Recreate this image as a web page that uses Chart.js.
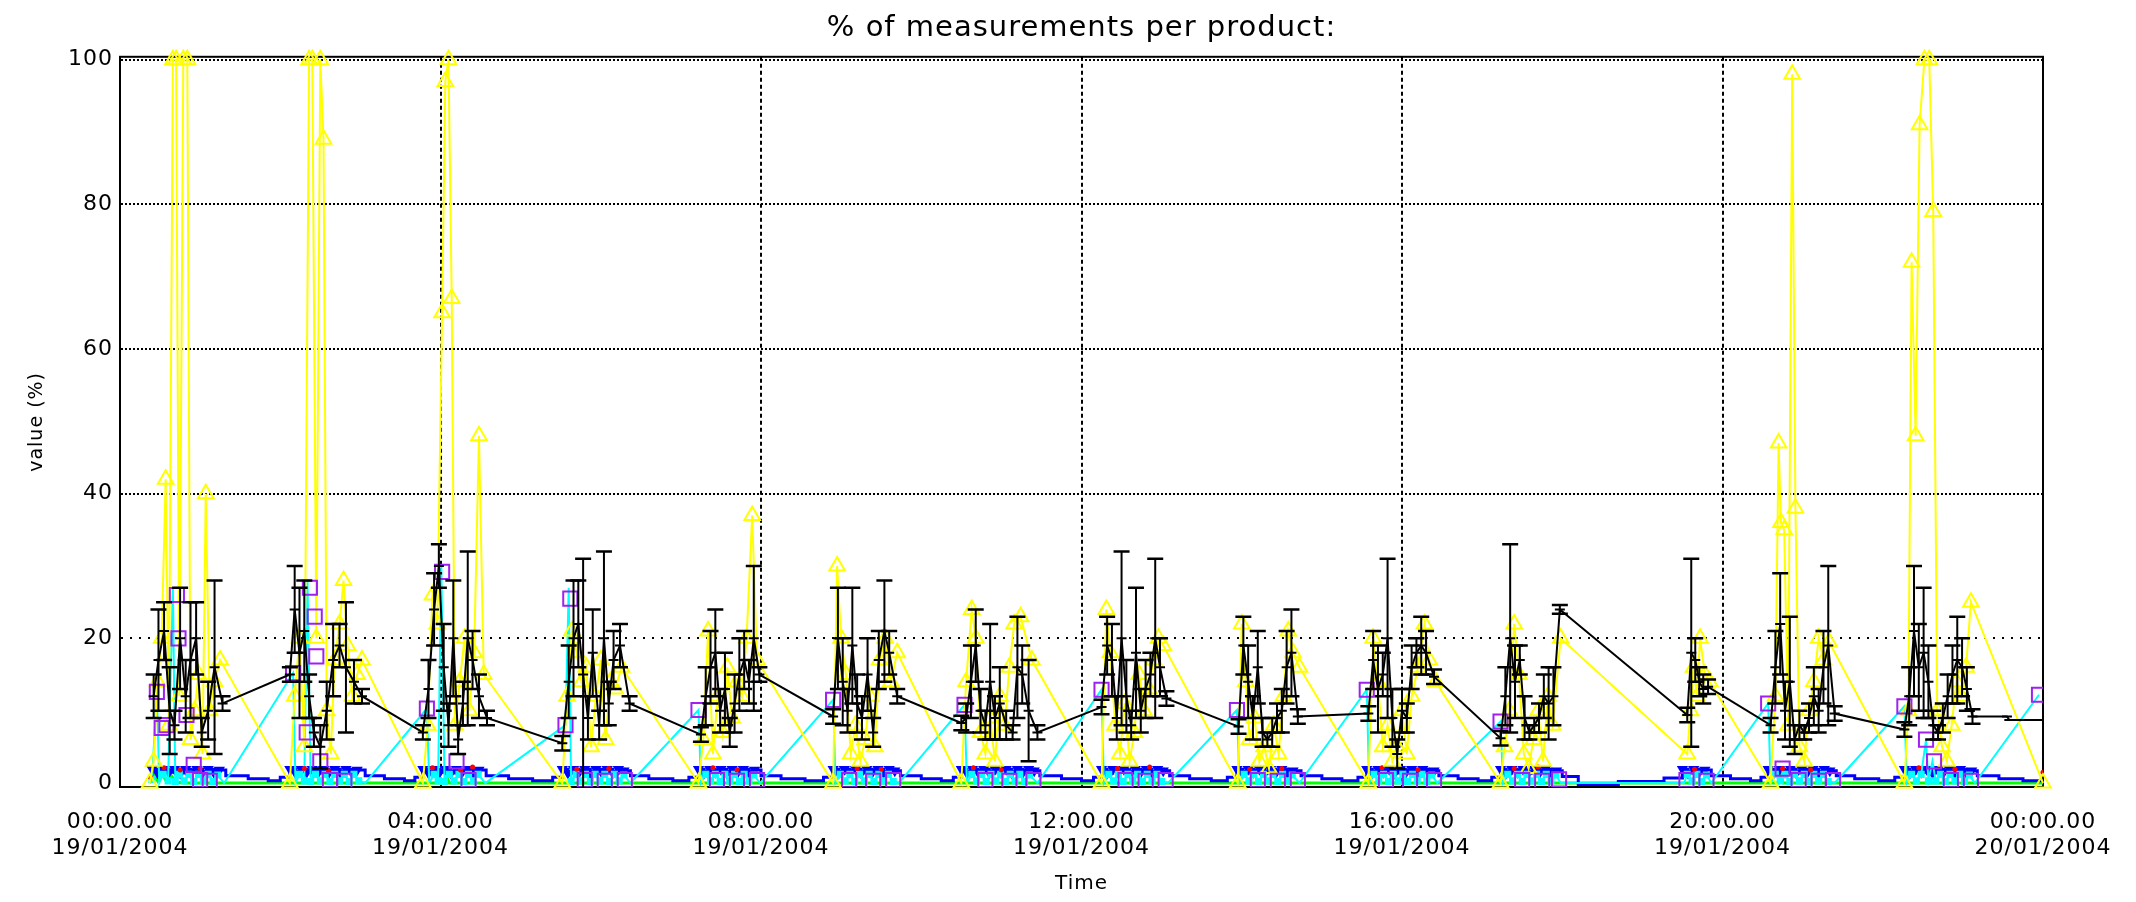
<!DOCTYPE html>
<html>
<head>
<meta charset="utf-8">
<title>% of measurements per product:</title>
<script src="https://cdn.jsdelivr.net/npm/chart.js@4.4.1/dist/chart.umd.min.js"></script>
<style>
  html, body { margin: 0; padding: 0; background: #fff; }
  canvas { display: block; }
</style>
</head>
<body>
<canvas id="myChart" width="2136" height="902"></canvas>
<script>
// time axis in hours since 19/01/2004 00:00
const tickHours = [0, 4, 8, 12, 16, 20, 24];
const tickTimes = ["00:00.00", "04:00.00", "08:00.00", "12:00.00", "16:00.00", "20:00.00", "00:00.00"];
const tickDates = ["19/01/2004", "19/01/2004", "19/01/2004", "19/01/2004", "19/01/2004", "19/01/2004", "20/01/2004"];
const yTicks = [0, 20, 40, 60, 80, 100];

// black: mean with error bar
const blackTime = [
  0.42, 0.48, 0.55, 0.62, 0.68, 0.75, 0.82, 0.88, 0.95, 1.02, 1.10, 1.18, 1.28,
  2.12, 2.18, 2.24, 2.30, 2.36, 2.42, 2.50, 2.58, 2.66, 2.74, 2.82, 2.92, 3.02,
  3.78, 3.85, 3.92, 3.98, 4.04, 4.10, 4.16, 4.22, 4.28, 4.34, 4.40, 4.48, 4.58,
  5.52, 5.60, 5.66, 5.72, 5.78, 5.84, 5.90, 5.98, 6.04, 6.10, 6.16, 6.24, 6.36,
  7.25, 7.31, 7.37, 7.43, 7.49, 7.55, 7.61, 7.67, 7.73, 7.79, 7.85, 7.91, 7.98,
  8.90, 8.96, 9.02, 9.08, 9.14, 9.20, 9.26, 9.33, 9.40, 9.47, 9.54, 9.60, 9.70,
  10.50, 10.56, 10.62, 10.68, 10.74, 10.80, 10.86, 10.92, 10.98, 11.06, 11.14, 11.20, 11.26, 11.34, 11.45,
  12.25, 12.32, 12.38, 12.44, 12.50, 12.56, 12.62, 12.68, 12.74, 12.80, 12.86, 12.92, 12.98, 13.06,
  13.96, 14.02, 14.08, 14.14, 14.20, 14.26, 14.32, 14.38, 14.44, 14.50, 14.56, 14.62, 14.70,
  15.58, 15.64, 15.70, 15.76, 15.82, 15.88, 15.94, 16.00, 16.06, 16.12, 16.18, 16.24, 16.30, 16.40,
  17.23, 17.29, 17.35, 17.41, 17.47, 17.53, 17.59, 17.65, 17.71, 17.77, 17.83, 17.89, 17.97,
  19.56, 19.61, 19.66, 19.71, 19.76, 19.82,
  20.60, 20.66, 20.72, 20.78, 20.84, 20.90, 20.96, 21.02, 21.08, 21.14, 21.20, 21.26, 21.32, 21.40,
  22.27, 22.33, 22.39, 22.45, 22.51, 22.57, 22.63, 22.69, 22.75, 22.81, 22.87, 22.93, 22.99, 23.05, 23.12,
  23.55, 23.58, 24.00
];
const blackMean = [
  12, 17, 21, 10, 8, 20, 12, 17, 20, 7, 10, 16, 11,
  15, 24, 18, 21, 12, 7, 5, 10, 17, 19, 16, 14, 12,
  7, 13, 24, 30, 16, 8, 20, 6, 11, 20, 17, 12, 9,
  5.5, 14, 20, 22, 15, 9, 18, 8, 20, 11, 17, 19, 11,
  6.7, 12, 16, 18, 10, 13, 7, 11, 15, 17, 14, 20, 15,
  9.2, 20, 14, 10, 19, 11, 9, 15, 7, 17, 21, 18, 12,
  8.3, 9, 14, 19, 10, 8, 14, 9, 11, 8, 7, 16, 15, 10, 7,
  10.5, 19, 17, 9, 20, 12, 8, 18, 10, 13, 15, 20, 16, 11.7,
  7.8, 19, 14, 9, 16, 7, 6, 7, 9, 10, 16, 18, 9.2,
  9.6, 17, 13, 15, 20, 9, 4, 10, 9, 16, 18, 19, 18, 14.7,
  6.2, 12, 20, 14, 17, 9, 7, 8, 9, 12, 11, 12, 24,
  9.4, 18, 17, 14, 13, 13.3,
  8, 16, 22, 10, 14, 6, 8, 7, 9, 12, 10, 16, 19, 9.6,
  7.4, 12, 21, 16, 18, 14, 8, 7, 9, 12, 15, 17, 16, 13, 9.2,
  9.2, 8.7, 8.7
];
const blackErr = [
  3, 7, 4, 6, 2, 7, 5, 8, 5, 2, 4, 12, 1,
  1, 6, 9, 7, 3, 2, 3, 4, 5, 3, 9, 3, 1,
  1, 4, 5, 3, 6, 3, 8, 2, 3, 12, 4, 3, 1,
  1, 5, 8, 6, 16, 3, 6, 2, 12, 3, 4, 3, 1,
  1, 4, 5, 6, 3, 5, 2, 4, 5, 4, 3, 10, 1,
  1, 7, 6, 3, 8, 4, 3, 5, 2, 4, 7, 3, 1,
  1, 2, 5, 5, 3, 2, 8, 3, 5, 2, 1, 7, 4, 7, 1,
  1, 4, 5, 3, 12, 5, 2, 9, 3, 4, 3, 11, 4, 1,
  1, 4, 5, 3, 5, 2, 1, 2, 2, 3, 5, 6, 1,
  1, 4, 6, 3, 11, 4, 2, 3, 2, 3, 2, 4, 3, 1,
  1, 4, 13, 5, 2, 3, 1, 1, 2, 3, 5, 4, 0.6,
  1, 13, 3, 2, 2, 1,
  1, 5, 7, 4, 9, 2, 2, 1, 2, 4, 3, 5, 11, 1,
  1, 4, 9, 6, 9, 5, 2, 1, 2, 3, 4, 6, 4, 3, 1,
  0, 0, 0
];

// yellow: triangles
const yellowTime = [
  0.37, 0.42, 0.47, 0.52, 0.57, 0.61, 0.66, 0.70, 0.74, 0.79, 0.84, 0.88, 0.93, 0.98, 1.03, 1.07, 1.12, 1.18, 1.25,
  2.12, 2.18, 2.24, 2.30, 2.36, 2.40, 2.45, 2.50, 2.54, 2.58, 2.63, 2.68, 2.74, 2.79, 2.84, 2.90, 2.96, 3.02,
  3.78, 3.84, 3.90, 3.96, 4.02, 4.06, 4.10, 4.14, 4.18, 4.24, 4.30, 4.36, 4.42, 4.48, 4.54,
  5.52, 5.58, 5.64, 5.70, 5.76, 5.82, 5.88, 5.94, 6.00, 6.06, 6.12, 6.18, 6.26,
  7.22, 7.28, 7.34, 7.40, 7.46, 7.52, 7.58, 7.64, 7.70, 7.76, 7.82, 7.89, 7.95,
  8.90, 8.95, 9.00, 9.06, 9.12, 9.18, 9.24, 9.30, 9.36, 9.42, 9.48, 9.55, 9.62, 9.70,
  10.50, 10.56, 10.63, 10.68, 10.74, 10.80, 10.86, 10.92, 10.98, 11.04, 11.10, 11.16, 11.24, 11.38,
  12.25, 12.31, 12.36, 12.42, 12.48, 12.54, 12.60, 12.66, 12.72, 12.78, 12.84, 12.90, 12.96, 13.02,
  13.95, 14.00, 14.05, 14.10, 14.16, 14.22, 14.28, 14.34, 14.40, 14.46, 14.52, 14.58, 14.64, 14.72,
  15.58, 15.64, 15.70, 15.76, 15.82, 15.88, 15.94, 16.00, 16.06, 16.12, 16.20, 16.28, 16.34, 16.42,
  17.23, 17.28, 17.34, 17.40, 17.46, 17.52, 17.58, 17.64, 17.70, 17.76, 17.82, 17.88, 17.98,
  19.56, 19.60, 19.64, 19.68, 19.72, 19.78, 19.84,
  20.60, 20.66, 20.70, 20.73, 20.77, 20.82, 20.87, 20.91, 20.96, 21.02, 21.08, 21.14, 21.20, 21.26, 21.33,
  22.27, 22.32, 22.36, 22.41, 22.46, 22.52, 22.58, 22.63, 22.68, 22.74, 22.80, 22.86, 22.92, 22.98, 23.04, 23.10,
  24.00
];
const yellowValue = [
  0, 3, 14, 20, 42, 8, 100, 100, 12, 100, 100, 6, 10, 15, 4, 40, 10, 14, 17,
  0, 12, 20, 5, 100, 100, 20, 100, 89, 10, 4, 17, 22, 28, 19, 12, 15, 17,
  0, 8, 26, 22, 65, 97, 100, 67, 8, 14, 20, 10, 18, 48, 15,
  0, 12, 21, 18, 14, 16, 5, 12, 17, 6, 14, 13, 16,
  0, 6, 21, 4, 12, 7, 16, 9, 14, 12, 20, 37, 17,
  0, 30, 20, 15, 4, 8, 3, 6, 12, 5, 17, 20, 14, 18,
  0, 14, 24, 20, 7, 4, 9, 3, 12, 8, 16, 22, 23, 17,
  0, 24, 18, 8, 4, 11, 3, 7, 15, 10, 13, 17, 20, 19,
  0, 22, 14, 6, 9, 3, 5, 2, 8, 4, 12, 21, 18, 16,
  0, 20, 14, 5, 8, 3, 5, 10, 4, 12, 16, 22, 17, 14,
  0, 5, 10, 22, 15, 4, 2, 6, 10, 3, 12, 8, 20,
  4, 10, 16, 12, 20, 15, 14,
  0, 12, 47, 36, 35, 8, 98, 38, 5, 3, 10, 14, 20, 17, 19.5,
  0, 10, 72, 48, 91, 100, 100, 79, 10, 5, 3, 8, 14, 12, 16, 25,
  0
];

// purple: open squares
const purpleTime = [
  0.46, 0.52, 0.58, 0.71, 0.73, 0.83, 0.92, 1.00, 1.12,
  2.16, 2.33, 2.37, 2.43, 2.45, 2.50, 2.62, 2.80,
  3.83, 4.02, 4.20, 4.35,
  5.56, 5.62, 5.80, 6.05, 6.30,
  7.22, 7.45, 7.70, 7.95,
  8.90, 9.10, 9.40, 9.65,
  10.54, 10.80, 11.10, 11.40,
  12.25, 12.55, 12.80, 13.05,
  13.94, 14.20, 14.45, 14.70,
  15.56, 15.80, 16.10, 16.40,
  17.23, 17.50, 17.75, 17.96,
  19.55, 19.80,
  20.57, 20.75, 20.95, 21.20, 21.38,
  22.27, 22.54, 22.64, 22.85, 23.10,
  23.95
];
const purpleValue = [
  12.6, 7.6, 8, 26, 20, 9.4, 2.5, 0.4, 0.3,
  15.2, 7, 27, 23, 17.5, 3, 0.4, 0.3,
  10.3, 29.2, 3, 0.4,
  8, 25.5, 0.4, 0.3, 0.4,
  10.1, 0.4, 0.3, 0.4,
  11.5, 0.4, 0.3, 0.4,
  10.8, 0.4, 0.3, 0.4,
  12.9, 0.4, 0.3, 0.4,
  10.1, 0.4, 0.3, 0.4,
  12.9, 0.4, 0.3, 0.4,
  8.5, 0.4, 0.3, 0.5,
  0.4, 0.3,
  11, 2, 0.4, 0.3, 0.4,
  10.6, 6, 3, 0.4, 0.3,
  12.2
];

// cyan line
const cyanTime = [
  0.40, 0.46, 0.49, 0.54, 0.60, 0.66, 0.69, 0.74, 0.80, 0.86, 0.92, 0.98, 1.04, 1.10, 1.16, 1.22, 1.30,
  2.16, 2.19, 2.24, 2.30, 2.34, 2.38, 2.44, 2.50, 2.56, 2.62, 2.68, 2.74, 2.80, 2.86, 2.92, 2.98, 3.06,
  3.83, 3.86, 3.92, 3.97, 4.01, 4.05, 4.11, 4.17, 4.23, 4.29, 4.35, 4.41, 4.47, 4.56,
  5.56, 5.60, 5.63, 5.69, 5.75, 5.81, 5.87, 5.93, 5.99, 6.05, 6.11, 6.17, 6.23, 6.29, 6.37,
  7.22, 7.25, 7.31, 7.37, 7.43, 7.49, 7.55, 7.61, 7.67, 7.73, 7.79, 7.85, 7.91, 7.99,
  8.90, 8.93, 8.99, 9.05, 9.11, 9.17, 9.23, 9.29, 9.35, 9.41, 9.47, 9.53, 9.59, 9.65, 9.72,
  10.54, 10.57, 10.63, 10.69, 10.75, 10.81, 10.87, 10.93, 10.99, 11.05, 11.11, 11.17, 11.23, 11.29, 11.35, 11.45,
  12.25, 12.28, 12.34, 12.40, 12.46, 12.52, 12.58, 12.64, 12.70, 12.76, 12.82, 12.88, 12.94, 13.00, 13.08,
  13.94, 13.97, 14.03, 14.09, 14.15, 14.21, 14.27, 14.33, 14.39, 14.45, 14.51, 14.57, 14.63, 14.72,
  15.56, 15.59, 15.65, 15.71, 15.77, 15.83, 15.89, 15.95, 16.01, 16.07, 16.13, 16.19, 16.25, 16.31, 16.37, 16.44,
  17.23, 17.26, 17.32, 17.38, 17.44, 17.50, 17.56, 17.62, 17.68, 17.74, 17.80, 17.86, 17.92, 17.98,
  19.52, 19.56, 19.62, 19.68, 19.74, 19.80, 19.86,
  20.57, 20.60, 20.66, 20.72, 20.78, 20.84, 20.90, 20.96, 21.02, 21.08, 21.14, 21.20, 21.26, 21.32, 21.40,
  22.27, 22.30, 22.36, 22.42, 22.48, 22.54, 22.57, 22.62, 22.66, 22.72, 22.78, 22.84, 22.90, 22.96, 23.02, 23.08, 23.15,
  23.95
];
const cyanValue = [
  0.5, 12.6, 0, 1.2, 0.3, 27, 0.2, 1.2, 0.3, 1.2, 0.2, 1.2, 0.3, 1.2, 0.2, 1.1, 0,
  15.2, 0, 1.2, 0.3, 28, 0.2, 1.2, 0.3, 1.2, 0.2, 1.2, 0.3, 1.2, 0.2, 1.2, 0.3, 0,
  10.3, 0, 1.2, 0.3, 30, 0.2, 1.2, 0.3, 1.2, 0.2, 1.2, 0.3, 1.2, 0,
  8, 27, 0.2, 1.2, 0.3, 1.2, 0.2, 1.2, 0.3, 1.2, 0.2, 1.2, 0.3, 1.1, 0,
  10.1, 0, 1.2, 0.3, 1.2, 0.2, 1.2, 0.3, 1.2, 0.2, 1.2, 0.3, 1.1, 0,
  11.5, 0, 1.2, 0.3, 1.2, 0.2, 1.2, 0.3, 1.2, 0.2, 1.2, 0.3, 1.2, 0.2, 0,
  10.8, 0, 1.2, 0.3, 1.2, 0.2, 1.2, 0.3, 1.2, 0.2, 1.2, 0.3, 1.2, 0.2, 1.1, 0,
  12.9, 0, 1.2, 0.3, 1.2, 0.2, 1.2, 0.3, 1.2, 0.2, 1.2, 0.3, 1.2, 0.2, 0,
  10.1, 0, 1.2, 0.3, 1.2, 0.2, 1.2, 0.3, 1.2, 0.2, 1.2, 0.3, 1.1, 0,
  12.9, 0, 1.2, 0.3, 1.2, 0.2, 1.2, 0.3, 1.2, 0.2, 1.2, 0.3, 1.2, 0.2, 1.1, 0,
  8.5, 0, 1.2, 0.3, 1.2, 0.2, 1.2, 0.3, 1.2, 0.2, 1.2, 0.3, 1.1, 0,
  0, 1.2, 0.3, 1.2, 0.2, 1.1, 0,
  11, 0, 1.2, 0.3, 1.2, 0.2, 1.2, 0.3, 1.2, 0.2, 1.2, 0.3, 1.2, 0.2, 0,
  10.6, 0, 1.2, 0.3, 1.2, 6, 0.3, 3, 0.3, 1.2, 0.2, 1.2, 0.3, 1.2, 0.2, 1.1, 0,
  12.2
];

// blue stepped line
const blueTime = [
  0.35, 0.40, 0.47, 0.54, 0.61, 0.68, 0.75, 0.82, 0.89, 0.96, 1.03, 1.10, 1.17, 1.24, 1.32, 1.60, 1.85, 2.00,
  2.12, 2.19, 2.26, 2.33, 2.40, 2.47, 2.54, 2.61, 2.68, 2.75, 2.82, 2.89, 2.96, 3.06, 3.30, 3.55, 3.68,
  3.78, 3.85, 3.92, 3.99, 4.06, 4.13, 4.20, 4.27, 4.34, 4.41, 4.48, 4.57, 4.85, 5.15, 5.40,
  5.52, 5.59, 5.66, 5.73, 5.80, 5.87, 5.94, 6.01, 6.08, 6.15, 6.22, 6.29, 6.37, 6.60, 6.90, 7.10,
  7.22, 7.29, 7.36, 7.43, 7.50, 7.57, 7.64, 7.71, 7.78, 7.85, 7.92, 8.00, 8.25, 8.55, 8.78,
  8.90, 8.97, 9.04, 9.11, 9.18, 9.25, 9.32, 9.39, 9.46, 9.53, 9.60, 9.67, 9.74, 10.00, 10.25, 10.40,
  10.50, 10.57, 10.64, 10.71, 10.78, 10.85, 10.92, 10.99, 11.06, 11.13, 11.20, 11.27, 11.34, 11.41, 11.48, 11.75, 12.00, 12.15,
  12.25, 12.32, 12.39, 12.46, 12.53, 12.60, 12.67, 12.74, 12.81, 12.88, 12.95, 13.02, 13.10, 13.35, 13.62, 13.82,
  13.94, 14.01, 14.08, 14.15, 14.22, 14.29, 14.36, 14.43, 14.50, 14.57, 14.64, 14.74, 15.00, 15.25, 15.45,
  15.56, 15.63, 15.70, 15.77, 15.84, 15.91, 15.98, 16.05, 16.12, 16.19, 16.26, 16.33, 16.40, 16.46, 16.70, 16.95, 17.12,
  17.23, 17.30, 17.37, 17.44, 17.51, 17.58, 17.65, 17.72, 17.79, 17.86, 17.93, 18.00, 18.20, 18.70, 19.27,
  19.50, 19.57, 19.64, 19.71, 19.78, 19.86, 20.10, 20.35, 20.48,
  20.57, 20.64, 20.71, 20.78, 20.85, 20.92, 20.99, 21.06, 21.13, 21.20, 21.27, 21.34, 21.42, 21.65, 21.95, 22.15,
  22.27, 22.34, 22.41, 22.48, 22.55, 22.62, 22.69, 22.76, 22.83, 22.90, 22.97, 23.04, 23.11, 23.18, 23.45, 23.75, 24.00
];
const blueValue = [
  0.8, 1.9, 1.4, 1.9, 1.5, 1.9, 1.4, 1.9, 1.5, 1.9, 1.4, 1.9, 1.5, 1.8, 1.0, 0.6, 0.3, 0.8,
  1.9, 1.4, 1.9, 1.5, 1.9, 1.4, 1.9, 1.5, 1.9, 1.4, 1.9, 1.5, 1.8, 1.0, 0.6, 0.3, 0.8,
  1.9, 1.4, 1.9, 1.5, 1.9, 1.4, 1.9, 1.5, 1.9, 1.4, 1.8, 1.0, 0.6, 0.3, 0.8,
  1.9, 1.4, 1.9, 1.5, 1.9, 1.4, 1.9, 1.5, 1.9, 1.4, 1.9, 1.7, 1.0, 0.6, 0.3, 0.8,
  1.9, 1.4, 1.9, 1.5, 1.9, 1.4, 1.9, 1.5, 1.9, 1.4, 1.8, 1.0, 0.6, 0.3, 0.8,
  1.9, 1.4, 1.9, 1.5, 1.9, 1.4, 1.9, 1.5, 1.9, 1.4, 1.9, 1.7, 1.0, 0.6, 0.3, 0.8,
  1.9, 1.4, 1.9, 1.5, 1.9, 1.4, 1.9, 1.5, 1.9, 1.4, 1.9, 1.5, 1.9, 1.7, 1.0, 0.6, 0.3, 0.8,
  1.9, 1.4, 1.9, 1.5, 1.9, 1.4, 1.9, 1.5, 1.9, 1.4, 1.9, 1.7, 1.0, 0.6, 0.3, 0.8,
  1.9, 1.4, 1.9, 1.5, 1.9, 1.4, 1.9, 1.5, 1.9, 1.4, 1.7, 1.0, 0.6, 0.3, 0.8,
  1.9, 1.4, 1.9, 1.5, 1.9, 1.4, 1.9, 1.5, 1.9, 1.4, 1.9, 1.5, 1.7, 1.0, 0.6, 0.3, 0.8,
  1.9, 1.4, 1.9, 1.5, 1.9, 1.4, 1.9, 1.5, 1.9, 1.4, 1.7, 0.9, -0.2, 0.2, 0.7,
  1.9, 1.4, 1.9, 1.5, 1.8, 1.0, 0.6, 0.3, 0.8,
  1.9, 1.4, 1.9, 1.5, 1.9, 1.4, 1.9, 1.5, 1.9, 1.4, 1.9, 1.7, 1.0, 0.6, 0.3, 0.8,
  1.9, 1.4, 1.9, 1.5, 1.9, 1.4, 1.9, 1.5, 1.9, 1.4, 1.9, 1.5, 1.7, 1.0, 0.6, 0.3, 0.3
];

// red dots
const redTime = [0.38, 0.55, 0.75, 1.00, 2.30, 2.60, 3.90, 4.25, 4.40, 5.70, 6.10, 7.40, 7.70, 9.20, 9.50,
  10.65, 11.00, 12.45, 12.85, 14.10, 14.50, 15.75, 16.20, 17.40, 17.70, 19.65, 20.75, 21.10, 22.45, 22.90, 24.00];
const redValue = [0.8, 2.1, 1.8, 2.0, 2.0, 1.7, 2.1, 1.8, 2.2, 1.9, 2.0, 2.1, 1.8, 2.0, 1.9,
  2.1, 1.8, 2.0, 2.2, 1.9, 2.0, 2.1, 1.8, 2.0, 2.2, 1.9, 2.0, 1.8, 2.1, 1.9, 1.5];

// green line
const greenTime = [0.37, 0.42, 0.47, 0.52, 0.58, 0.64, 0.70, 0.80, 4.05, 4.08, 4.11, 20.70, 20.73, 20.76, 24.00];
const greenValue = [0, 1.2, 0.3, 1.4, 0.2, 1.0, 0.1, 0, 0, 0.8, 0, 0, 0.9, 0, 0];

const pts = (xs, ys) => xs.map((x, i) => ({ x: x, y: ys[i] }));

const errorBarData = [];
blackTime.forEach((t, i) => {
  if (blackErr[i] > 0) {
    errorBarData.push({ x: t, y: blackMean[i] - blackErr[i] });
    errorBarData.push({ x: t, y: blackMean[i] + blackErr[i] });
    errorBarData.push({ x: t, y: null });
  }
});

const plotFrame = {
  id: "plotFrame",
  beforeDraw(chart) {
    chart.ctx.letterSpacing = "1px";
  },
  beforeDatasetsDraw(chart) {
    const { ctx, chartArea: a } = chart;
    ctx.save();
    ctx.strokeStyle = "#000";
    ctx.lineWidth = 2;
    ctx.strokeRect(a.left, a.top, a.right - a.left, a.bottom - a.top);
    ctx.restore();
  },
};

const FONT = "'DejaVu Sans', sans-serif";
const ctx = document.getElementById("myChart").getContext("2d");

const myChart = new Chart(ctx, {
  type: "line",
  data: {
    datasets: [
      {
        label: "error",
        data: errorBarData,
        borderColor: "#000",
        borderWidth: 2,
        pointStyle: "line",
        pointRadius: 8,
        pointBorderWidth: 2.5,
        pointBorderColor: "#000",
        spanGaps: false,
      },
      {
        label: "mean",
        data: pts(blackTime, blackMean),
        borderColor: "#000",
        borderWidth: 2,
        pointStyle: "line",
        pointRadius: 5,
        pointBorderWidth: 2,
        pointBorderColor: "#000",
      },
      {
        label: "squares",
        data: pts(purpleTime, purpleValue),
        showLine: false,
        pointStyle: "rect",
        pointRadius: 10,
        pointBorderWidth: 2,
        pointBorderColor: "#a020f0",
        pointBackgroundColor: "rgba(0,0,0,0)",
      },
      {
        label: "triangles",
        data: pts(yellowTime, yellowValue),
        borderColor: "#ffff00",
        borderWidth: 2,
        pointStyle: "triangle",
        pointRadius: 9,
        pointBorderWidth: 2,
        pointBorderColor: "#ffff00",
        pointBackgroundColor: "rgba(0,0,0,0)",
        clip: false,
      },
      {
        label: "red",
        data: pts(redTime, redValue),
        showLine: false,
        pointRadius: 2.5,
        pointBorderWidth: 0,
        pointBackgroundColor: "#ff0000",
      },
      {
        label: "cyan",
        data: pts(cyanTime, cyanValue),
        borderColor: "#00ffff",
        borderWidth: 2,
        pointStyle: "rect",
        pointRadius: (c) => {
          const v = cyanValue[c.dataIndex];
          return v > 0 && v < 1.5 ? 5 : 0;
        },
        pointBorderWidth: 0,
        pointBackgroundColor: "#00ffff",
      },
      {
        label: "blue",
        data: pts(blueTime, blueValue),
        stepped: true,
        borderColor: "#0000ff",
        borderWidth: 3,
        pointStyle: "triangle",
        rotation: 180,
        pointRadius: (c) => (blueValue[c.dataIndex] >= 1.4 ? 6.5 : 0),
        pointBorderWidth: 0,
        pointBackgroundColor: "#0000ff",
      },
      {
        label: "green",
        data: pts(greenTime, greenValue),
        borderColor: "#00ff00",
        borderWidth: 3,
        pointRadius: 0,
      },
    ],
  },
  options: {
    responsive: false,
    animation: false,
    events: [],
    layout: { padding: { left: 0, right: 93, top: 0, bottom: 0 } },
    elements: { line: { tension: 0 } },
    scales: {
      x: {
        type: "linear",
        min: 0,
        max: 24,
        afterBuildTicks: (axis) => {
          axis.ticks = tickHours.map((v) => ({ value: v }));
        },
        afterFit: (s) => {
          s.height = 115;
        },
        grid: {
          color: (c) => (c.tick && (c.tick.value === 0 || c.tick.value === 24) ? "rgba(0,0,0,0)" : "#000"),
          lineWidth: 2,
          drawTicks: false,
        },
        border: { display: true, color: "#000", width: 2, dash: [4, 3] },
        ticks: {
          color: "#000",
          font: { family: FONT, size: 22 },
          padding: 22,
          maxRotation: 0,
          autoSkip: false,
          callback: (v, i) => [tickTimes[i], tickDates[i]],
        },
        title: {
          display: true,
          text: "Time",
          color: "#000",
          font: { family: FONT, size: 20 },
          padding: { top: 0, bottom: 6 },
        },
      },
      y: {
        min: -0.55,
        max: 100.4,
        afterBuildTicks: (axis) => {
          axis.ticks = yTicks.map((v) => ({ value: v }));
        },
        afterFit: (s) => {
          s.width = 120;
        },
        grid: {
          color: (c) => (c.tick && c.tick.value === 0 ? "rgba(0,0,0,0)" : "#000"),
          lineWidth: 2,
          drawTicks: false,
        },
        border: {
          display: true,
          color: "#000",
          width: 2,
          dash: (c) => (c.tick && c.tick.value === 20 ? [2, 7] : [2, 2]),
        },
        ticks: {
          color: "#000",
          font: { family: FONT, size: 22 },
          padding: 7,
        },
        title: {
          display: true,
          text: "value (%)",
          color: "#000",
          font: { family: FONT, size: 19 },
          padding: { top: 26, bottom: 0 },
        },
      },
    },
    plugins: {
      legend: { display: false },
      tooltip: { enabled: false },
      title: {
        display: true,
        fullSize: false,
        text: "% of measurements per product:",
        color: "#000",
        font: { family: FONT, size: 29, weight: "normal" },
        padding: { top: 11, bottom: 11 },
      },
    },
  },
  plugins: [plotFrame],
});
</script>
</body>
</html>
